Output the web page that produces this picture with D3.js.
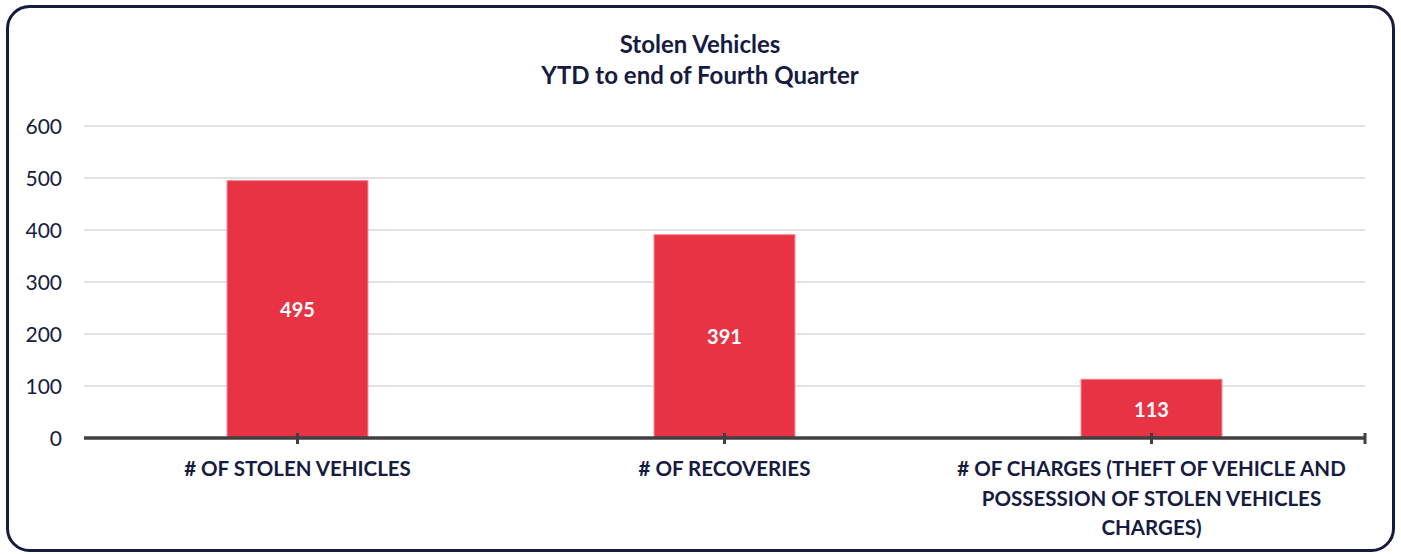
<!DOCTYPE html>
<html><head><meta charset="utf-8">
<script src="https://cdn.jsdelivr.net/npm/d3@7"></script>
<style>
html,body{margin:0;padding:0;background:#fff;}
svg{display:block;}
</style></head>
<body>
<svg id="chart" width="1401" height="554"></svg>
<script>
const titleLines = ["Stolen Vehicles", "YTD to end of Fourth Quarter"];
const categories = ["# OF STOLEN VEHICLES", "# OF RECOVERIES", "# OF CHARGES (THEFT OF VEHICLE AND POSSESSION OF STOLEN VEHICLES CHARGES)"];
const values = [495, 391, 113];
const yTicks = [0, 100, 200, 300, 400, 500, 600];

const W = 1401, H = 554;
const navy = "#161b40";
const font = "Lato, 'Open Sans', sans-serif";
const svg = d3.select("#chart");

svg.append("rect").attr("x", 7.5).attr("y", 6.5).attr("width", 1386).attr("height", 544)
  .attr("rx", 22).attr("fill", "#fff").attr("stroke", navy).attr("stroke-width", 3);

const m = {left: 84, right: 36, top: 126, bottom: 116};
const x = d3.scaleBand().domain(categories).range([m.left, W - m.right]).paddingInner(0.67).paddingOuter(0.335);
const xc = d3.scaleBand().domain(categories).range([m.left, W - m.right]);
const y = d3.scaleLinear().domain([0, 600]).range([H - m.bottom, m.top]);

// title
svg.append("g").selectAll("text").data(titleLines).join("text")
  .attr("x", 700).attr("y", (d, i) => 53 + i * 31)
  .attr("text-anchor", "middle").attr("font-family", font).attr("font-weight", 700)
  .attr("font-size", 24).attr("fill", navy).text(d => d);

// grid
svg.append("g").selectAll("line").data(yTicks.filter(d => d > 0)).join("line")
  .attr("x1", m.left).attr("x2", W - m.right)
  .attr("y1", d => y(d)).attr("y2", d => y(d))
  .attr("stroke", "#d9d9d9").attr("stroke-width", 1.5);

// y axis labels
const yAxis = d3.axisLeft(y).tickValues(yTicks).tickSize(0).tickPadding(22);
const gy = svg.append("g").attr("transform", `translate(${m.left},0)`).call(yAxis);
gy.select(".domain").remove();
gy.selectAll("text").attr("font-family", font).attr("font-size", 21).attr("fill", navy).attr("dy", "0.36em");

// bars
svg.append("g").selectAll("rect").data(values).join("rect")
  .attr("x", (d, i) => x(categories[i])).attr("width", x.bandwidth())
  .attr("y", d => y(d)).attr("height", d => y(0) - y(d))
  .attr("fill", "#e83345").attr("stroke", "#f2878f").attr("stroke-width", 1);

// data labels
svg.append("g").selectAll("text").data(values).join("text")
  .attr("x", (d, i) => x(categories[i]) + x.bandwidth() / 2)
  .attr("y", d => (y(d) + y(0)) / 2 + 8)
  .attr("text-anchor", "middle").attr("font-family", font).attr("font-weight", 700)
  .attr("font-size", 20).attr("fill", "#fff").text(d => d);

// x axis
const gx = svg.append("g").attr("transform", `translate(0,${y(0)})`);
gx.append("line").attr("x1", m.left).attr("x2", W - m.right).attr("stroke", "#404040").attr("stroke-width", 3.5);
const tickXs = categories.map(c => xc(c) + xc.bandwidth() / 2).concat([W - m.right]);
gx.selectAll("line.t").data(tickXs).join("line").attr("class", "t")
  .attr("x1", d => d).attr("x2", d => d).attr("y1", -5).attr("y2", 6)
  .attr("stroke", "#404040").attr("stroke-width", 3);

// category labels with wrapping
const catSize = 20.5;
function wrapLines(text, maxW, size) {
  const ctx = document.createElement("canvas").getContext("2d");
  ctx.font = `700 ${size}px Lato, 'Open Sans', sans-serif`;
  const words = text.split(" "); const lines = []; let cur = "";
  words.forEach(w => {
    const t = cur ? cur + " " + w : w;
    if (ctx.measureText(t).width > maxW && cur) { lines.push(cur); cur = w; } else cur = t;
  });
  if (cur) lines.push(cur);
  return lines;
}
const gl = svg.append("g");
categories.forEach(c => {
  const lines = wrapLines(c, 400, catSize);
  const t = gl.append("text").attr("text-anchor", "middle").attr("font-family", font)
    .attr("font-weight", 700).attr("font-size", catSize).attr("fill", navy);
  lines.forEach((l, i) => t.append("tspan").attr("x", xc(c) + xc.bandwidth() / 2).attr("y", 476 + i * 29.5).text(l));
});
</script>
</body></html>
